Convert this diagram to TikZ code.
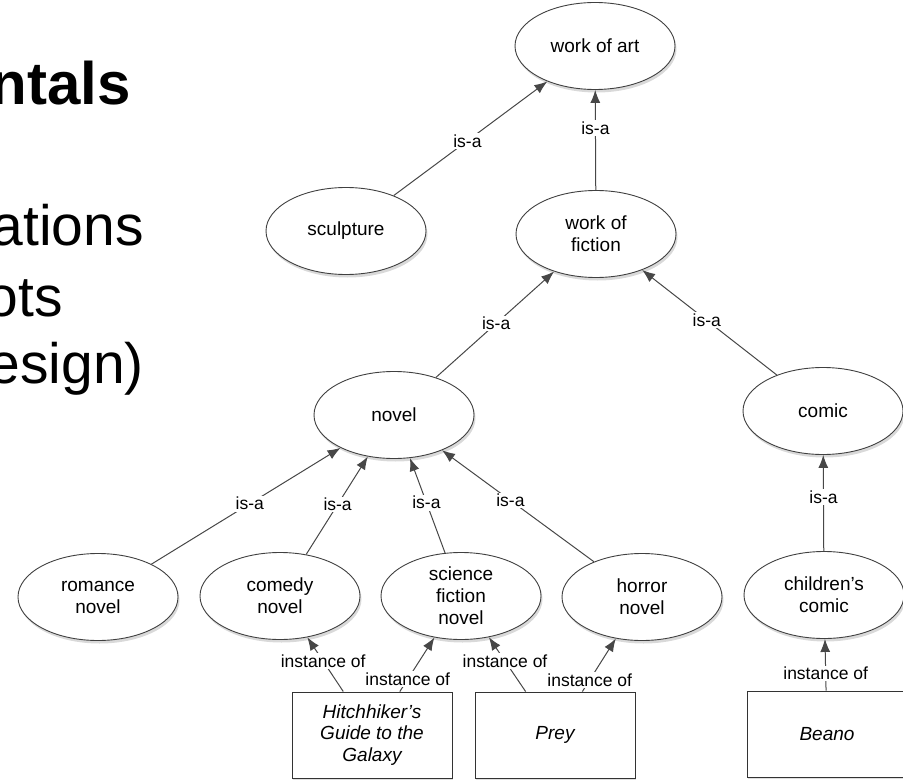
\documentclass[tikz,border=0pt]{standalone}
\usepackage{fontspec}
\setmainfont{Liberation Sans}
\usepackage{tikz}
\usetikzlibrary{arrows.meta,shapes.geometric,shadows}
\tikzset{concept/.style={ellipse, draw=black!75, fill=white, line width=0.9pt,
    minimum width=160pt, minimum height=87pt, inner sep=0pt, align=center,
    font=\fontsize{19}{22}\selectfont,
    drop shadow={shadow xshift=1.5pt, shadow yshift=-3pt, opacity=0.3}}}
\tikzset{thing/.style={rectangle, draw=black!80, fill=white, line width=0.9pt,
    minimum width=160pt, minimum height=86pt, inner sep=0pt, align=center,
    font=\fontsize{19}{21.5}\selectfont\itshape,
    drop shadow={shadow xshift=1pt, shadow yshift=-2pt, opacity=0.25}}}
\tikzset{rel/.style={draw=black!72, line width=1pt, -{Latex[length=13pt,width=10pt]}}}
\tikzset{lab/.style={fill=white, inner sep=1.5pt, font=\fontsize{17.5}{17.5}\selectfont}}
\tikzset{slide/.style={anchor=base east, inner sep=0pt, font=\fontsize{57}{57}\selectfont}}

\begin{document}
\begin{tikzpicture}[x=1pt, y=-1pt]
    \useasboundingbox (0,0) rectangle (903,781);
    % cut-off slide text on the left
    \node [slide, font=\fontsize{60}{60}\selectfont\bfseries] (title) at (131,105) {ntals};
    \node [slide] (line1) at (144,245) {ations};
    \node [slide] (line2) at (63,316) {ots};
    \node [slide] (line3) at (144,383) {esign)};
    % concepts
    \node [concept] (art) at (595,46) {work of art};
    \node [concept] (sculpture) at (346,231) {sculpture};
    \node [concept] (fiction) at (596,234) {work of\\fiction};
    \node [concept] (novel) at (394,415) {novel};
    \node [concept] (comic) at (823,411) {comic};
    \node [concept] (romance) at (98,597) {romance\\novel};
    \node [concept] (comedy) at (280,596) {comedy\\novel};
    \node [concept] (scifi) at (461,596) {science\\fiction\\novel};
    \node [concept] (horror) at (642,597) {horror\\novel};
    \node [concept] (kids) at (824,595) {children’s\\comic};
    % instances
    \node [thing] (hitch) at (372,735) {Hitchhiker’s\\Guide to the\\Galaxy};
    \node [thing] (prey) at (555,735) {Prey};
    \node [thing] (beano) at (827,734) {Beano};
    % is-a links
    \draw [rel] (sculpture) -- node [lab, pos=0.48] {is-a} (art);
    \draw [rel] (fiction) -- node [lab, pos=0.62] {is-a} (art);
    \draw [rel] (novel) -- node [lab, pos=0.51] {is-a} (fiction);
    \draw [rel] (comic) -- node [lab, pos=0.52] {is-a} (fiction);
    \draw [rel] (romance) -- node [lab, pos=0.52] {is-a} (novel);
    \draw [rel] (comedy) -- node [lab, pos=0.51] {is-a} (novel);
    \draw [rel] (scifi) -- node [lab, pos=0.53] {is-a} (novel);
    \draw [rel] (horror) -- node [lab, pos=0.55] {is-a} (novel);
    \draw [rel] (kids) -- node [lab, pos=0.56] {is-a} (comic);
    % instance-of links
    \draw [rel] (hitch) -- node [lab, pos=0.56] {instance of} (comedy);
    \draw [rel] (hitch) -- node [lab, pos=0.23] {instance of} (scifi);
    \draw [rel] (prey) -- node [lab, pos=0.56] {instance of} (scifi);
    \draw [rel] (prey) -- node [lab, pos=0.22] {instance of} (horror);
    \draw [rel] (beano) -- node [lab, pos=0.33] {instance of} (kids);
\end{tikzpicture}
\end{document}
